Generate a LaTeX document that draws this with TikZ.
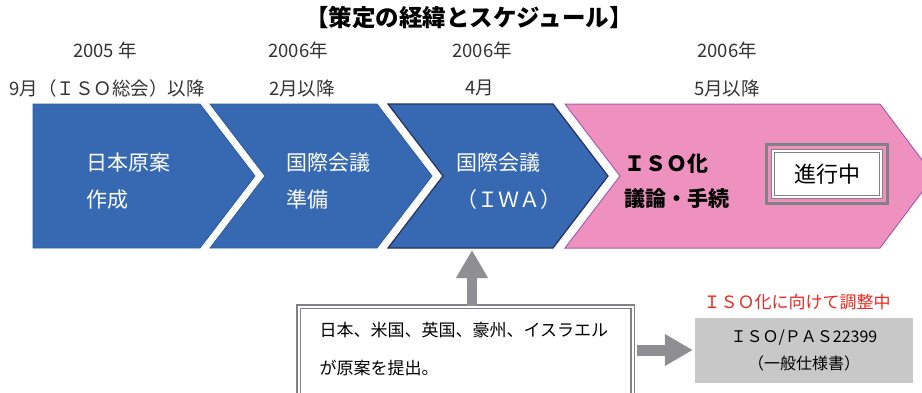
\documentclass[tikz,border=0pt]{standalone}
\usepackage{fontspec}
\setmainfont{Noto Sans CJK JP}
\usetikzlibrary{arrows.meta,positioning}

\definecolor{chevblue}{RGB}{55,105,178}
\definecolor{chevedge}{RGB}{45,90,160}
\definecolor{chevnavy}{RGB}{40,45,95}
\definecolor{chevpink}{RGB}{238,145,190}
\definecolor{pinkedge}{RGB}{165,95,175}
\definecolor{arrowgray}{RGB}{142,142,147}
\definecolor{framegray}{RGB}{130,130,134}
\definecolor{pasgray}{RGB}{200,200,200}
\definecolor{notered}{RGB}{235,40,30}

\begin{document}
\begin{tikzpicture}[x=1pt,y=-1pt,
    chev/.style={fill=chevblue, draw=chevedge, line width=0.8pt},
    stagetext/.style={anchor=west, align=left, text=white, font=\fontsize{21}{37}\selectfont},
    datetext/.style={font=\fontsize{18.5}{20}\selectfont, text=black!80},
    fatarrow/.style={draw=arrowgray, line width=10pt, -{Triangle[length=28pt,width=30pt]}}]
        \useasboundingbox (0,0) rectangle (922,392);
        % title
        \node (title) at (469,18) {\fontsize{23.5}{26}\selectfont\bfseries 【策定の経緯とスケジュール】};
        % dates
        \node[datetext] (y1) at (105,50) {2005 年};
        \node[datetext] (m1) at (107,88) {9月（ＩＳＯ総会）以降};
        \node[datetext] (y2) at (298,50) {2006年};
        \node[datetext] (m2) at (302,88) {2月以降};
        \node[datetext] (y3) at (482,50) {2006年};
        \node[datetext] (m3) at (480,88) {4月};
        \node[datetext] (y4) at (727,50) {2006年};
        \node[datetext] (m4) at (727,88) {5月以降};
        % stages
        \draw[chev] (33,104) -- (200,104) -- (255,176) -- (200,248) -- (33,248) -- cycle;
        \draw[chev] (210,104) -- (377,104) -- (432,176) -- (377,248) -- (210,248) -- (265,176) -- cycle;
        \draw[chev, draw=chevnavy, line width=1.2pt] (388,104) -- (553,104) -- (608,176) -- (553,248) -- (388,248) -- (443,176) -- cycle;
        \draw[fill=chevpink, draw=pinkedge, line width=1pt] (565,104) -- (880,104) -- (934,176) -- (880,248) -- (565,248) -- (620,176) -- cycle;
        \node[stagetext] (draft) at (83,181) {日本原案\\作成};
        \node[stagetext] (prep) at (283,181) {国際会議\\準備};
        \node[stagetext] (iwa) at (453,181) {国際会議\\（ＩＷＡ）};
        \node[stagetext, text=black, font=\fontsize{21}{35}\selectfont\bfseries] (isostage) at (621,181) {ＩＳＯ化\\議論・手続};
        \node[draw=framegray, line width=1.5pt, double=white, double distance=1.8pt, fill=white,
              minimum width=108pt, minimum height=46pt, font=\fontsize{22}{24}\selectfont] (status) at (827,174) {進行中};
        \draw[framegray, line width=3pt] ([shift={(-6pt,6pt)}]status.north west) rectangle ([shift={(6pt,-6pt)}]status.south east);
        % proposals
        \node[draw=framegray, line width=1.2pt, double=white, double distance=2pt, fill=white,
              minimum width=334pt, minimum height=130pt, anchor=north west] (proposal) at (298,306) {};
        \node[anchor=west, align=left, font=\fontsize{17}{38}\selectfont] (proptext) at (316,349) {日本、米国、英国、豪州、イスラエル\\が原案を提出。};
        \coordinate (iwafoot) at (472,250);
        \draw[fatarrow] (proposal.north -| iwafoot) -- (iwafoot);
        \node[fill=pasgray, minimum width=218pt, minimum height=65pt, align=center,
              font=\fontsize{16}{27}\selectfont] (pas) at (804,350) {ＩＳＯ/ＰＡＳ22399\\（一般仕様書）};
        \node[text=notered, font=\fontsize{17}{20}\selectfont] (adjust) at (797,302) {ＩＳＯ化に向けて調整中};
        \draw[fatarrow, line width=11pt] ([xshift=4pt]proposal.east |- pas.west) -- ([xshift=-2pt]pas.west);
      \end{tikzpicture}
\end{document}
